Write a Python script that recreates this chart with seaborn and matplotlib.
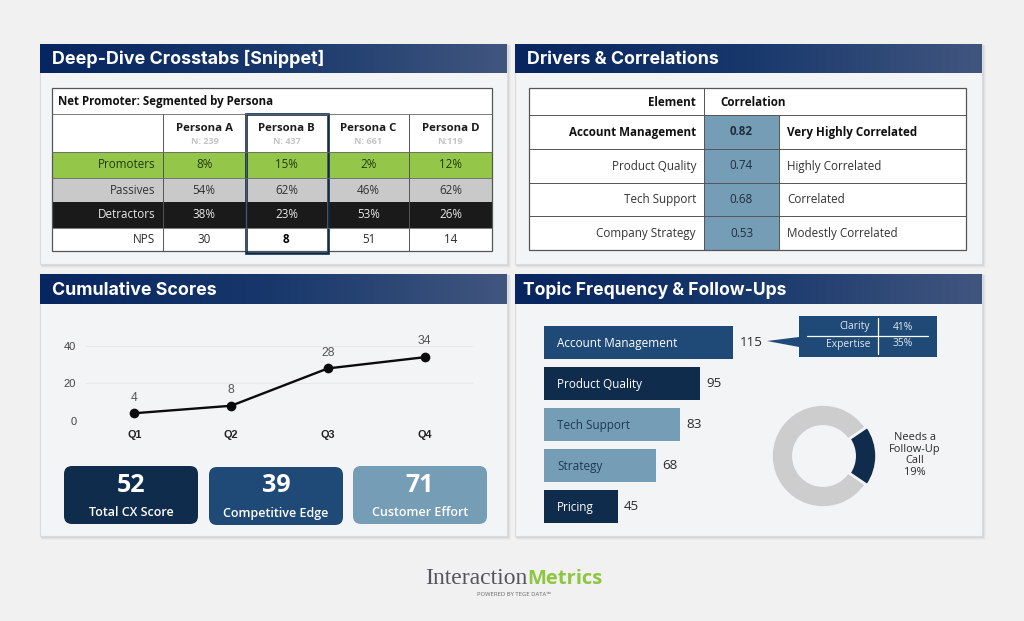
import numpy as np
import pandas as pd
import seaborn as sns
import matplotlib
matplotlib.use("Agg")
import matplotlib.pyplot as plt
from matplotlib.colors import LinearSegmentedColormap, ListedColormap
from matplotlib.patches import FancyBboxPatch, Polygon, Rectangle

# crosstab data
personas = ["Persona A", "Persona B", "Persona C", "Persona D"]
persona_ns = ["N: 239", "N: 437", "N: 661", "N:119"]
row_labels = ["Promoters", "Passives", "Detractors", "NPS"]
promoters = [8, 15, 2, 12]
passives = [54, 62, 46, 62]
detractors = [38, 23, 53, 26]
nps = [30, 8, 51, 14]

# correlation data
elements = ["Account Management", "Product Quality", "Tech Support", "Company Strategy"]
correlations = [0.82, 0.74, 0.68, 0.53]
corr_labels = ["Very Highly Correlated", "Highly Correlated", "Correlated", "Modestly Correlated"]

# cumulative scores
quarters = ["Q1", "Q2", "Q3", "Q4"]
scores = [4, 8, 28, 34]
kpi_values = [52, 39, 71]
kpi_labels = ["Total CX Score", "Competitive Edge", "Customer Effort"]

# topics
topics = ["Account Management", "Product Quality", "Tech Support", "Strategy", "Pricing"]
topic_counts = [115, 95, 83, 68, 45]
callout_rows = [("Clarity", "41%"), ("Expertise", "35%")]
followup_share = [19, 81]

NAVY = "#0f2c4d"
BLUE = "#1f4a78"
STEEL = "#769db6"
GREEN = "#94c749"
GRAY = "#c9c9c9"
LINE = "#555555"
TEXT = "#2b2b2b"
TITLE_FONT = "Inter"
BODY_FONT = "Open Sans"
CARD_FONT = "Open Sans"

sns.set_theme(style="white")
fig = plt.figure(figsize=(10.24, 6.21), dpi=100, facecolor="#f1f1f1")
W, H = 1024, 621


def px_axes(x0, y0, x1, y1, zorder=2):
    ax = fig.add_axes([x0 / W, 1 - y1 / H, (x1 - x0) / W, (y1 - y0) / H], zorder=zorder)
    ax.patch.set_alpha(0)
    return ax


def overlay(zorder):
    ax = px_axes(0, 0, W, H, zorder=zorder)
    ax.set_xlim(0, W)
    ax.set_ylim(H, 0)
    ax.axis("off")
    ax.set_autoscale_on(False)
    return ax


back = overlay(0)
top = overlay(5)
header_cmap = LinearSegmentedColormap.from_list("hdr", ["#07255f", "#18386c", "#41567f"])


def panel(x0, y0, x1, y1, head_bottom, title, title_x=12, title_size=12.8):
    # soft shadow on right and bottom
    for off, a in [(4, 0.025), (3, 0.035), (2, 0.05), (1, 0.06)]:
        back.add_patch(Rectangle((x0 + 1, y0 + 1), x1 - x0 + off - 1, y1 - y0 + off - 1,
                                 fc="black", ec="none", alpha=a))
    back.add_patch(Rectangle((x0, y0), x1 - x0, y1 - y0, fc="#f3f4f6", ec="#dcdcdc", lw=0.8))
    back.imshow(np.linspace(0, 1, 256)[None, :], extent=[x0, x1, head_bottom, y0],
                cmap=header_cmap, aspect="auto", zorder=3)
    back.text(x0 + title_x, (y0 + head_bottom) / 2 + 6, title, color="white", fontsize=title_size,
              fontweight="bold", family=TITLE_FONT, va="baseline", zorder=4)


panel(40, 44, 507, 264, 73, "Deep-Dive Crosstabs [Snippet]", title_size=12.9)
panel(515, 44, 982, 264, 73, "Drivers & Correlations")
panel(40, 274, 507, 536, 304, "Cumulative Scores")
panel(515, 274, 982, 536, 304, "Topic Frequency & Follow-Ups", title_x=8, title_size=12.6)

# ---- crosstab table
row_edges = [152, 178, 202, 228, 251]
col_edges = [52, 163, 246, 327, 409, 492]
row_cmap = ListedColormap([GREEN, GRAY, "#1a1a1a", "#ffffff"])
row_text = ["#1f3a12", "#333333", "#e8e8e8", TEXT]
back.add_patch(Rectangle((52, 88), 440, 163, fc="white", ec="none", zorder=3))


def row_scale(ax):
    ys = np.arange(5)
    ax.set_yscale("function", functions=(lambda v: np.interp(v, ys, row_edges),
                                         lambda v: np.interp(v, row_edges, ys)))
    ax.set_xticks([])
    ax.set_yticks([])


codes = np.repeat(np.arange(4), 4).reshape(4, 4)
cells = [[f"{v}%" for v in promoters], [f"{v}%" for v in passives],
         [f"{v}%" for v in detractors], [str(v) for v in nps]]
ax = px_axes(col_edges[1], row_edges[0], col_edges[-1], row_edges[-1])
sns.heatmap(codes, annot=np.array(cells), fmt="", cmap=row_cmap, vmin=-0.5, vmax=3.5, cbar=False,
            xticklabels=False, yticklabels=False, ax=ax,
            annot_kws={"fontsize": 8.4, "family": BODY_FONT})
row_scale(ax)
for i, t in enumerate(ax.texts):
    t.set_color(row_text[i // 4])
ax.texts[13].set_fontweight("bold")
ax.texts[13].set_color("black")

ax = px_axes(col_edges[0], row_edges[0], col_edges[1], row_edges[-1])
sns.heatmap(np.arange(4).reshape(4, 1), annot=np.array(row_labels).reshape(4, 1), fmt="", cmap=row_cmap,
            vmin=-0.5, vmax=3.5, cbar=False, xticklabels=False, yticklabels=False, ax=ax,
            annot_kws={"fontsize": 8.4, "family": BODY_FONT})
row_scale(ax)
for i, t in enumerate(ax.texts):
    t.set_color(row_text[i])
    t.set_ha("right")
    t.set_x(0.93)

top.text(58, 101.5, "Net Promoter: Segmented by Persona", fontsize=8.3, fontweight="bold",
         family=BODY_FONT, color="#111111", va="center")
for i, name in enumerate(personas):
    cx = (col_edges[i + 1] + col_edges[i + 2]) / 2
    top.text(cx, 128.5, name, fontsize=8.2, fontweight="bold", family=BODY_FONT, color="#1a1a1a",
             ha="center", va="center")
    top.text(cx, 141.5, persona_ns[i], fontsize=6.6, fontweight="bold", family=BODY_FONT, color="#c4c4c4",
             ha="center", va="center")
for x in col_edges[1:-1]:
    top.plot([x, x], [114, 251], color=LINE, lw=0.7)
for y in [114, 152, 178, 228]:
    top.plot([52, 492], [y, y], color="#666666", lw=0.6)
top.add_patch(Rectangle((52, 88), 440, 163, fc="none", ec=LINE, lw=0.9))
top.add_patch(Rectangle((246, 113.5), 81.5, 139, fc="none", ec="#0d2b4e", lw=1.9))

# ---- correlation table
back.add_patch(Rectangle((529, 88), 437, 162, fc="white", ec="none", zorder=3))
ax = px_axes(704, 115, 779, 250)
corr_frame = pd.DataFrame({"corr": correlations}, index=elements)
sns.heatmap(corr_frame, annot=True, fmt=".2f", cmap=ListedColormap([STEEL]), cbar=False,
            xticklabels=False, yticklabels=False, ax=ax,
            annot_kws={"fontsize": 8.4, "family": BODY_FONT, "color": "#1e2f3c"})
ax.set_ylabel("")
ax.texts[0].set_fontweight("bold")
top.text(696, 102, "Element", fontsize=8.4, fontweight="bold", family=BODY_FONT, color="#111111",
         ha="right", va="center")
top.text(720, 102, "Correlation", fontsize=8.4, fontweight="bold", family=BODY_FONT, color="#111111",
         va="center")
for i in range(4):
    cy = 115.5 + 33.75 * (i + 0.5)
    weight = "bold" if i == 0 else "normal"
    color = "#111111" if i == 0 else "#333333"
    top.text(696, cy, elements[i], fontsize=8.4, fontweight=weight, family=BODY_FONT, color=color,
             ha="right", va="center")
    top.text(787, cy, corr_labels[i], fontsize=8.4, fontweight=weight, family=BODY_FONT, color=color,
             va="center")
    top.plot([529, 966], [115 + 33.75 * i] * 2, color=LINE, lw=0.7)
top.plot([704, 704], [88, 250], color=LINE, lw=0.7)
top.plot([779, 779], [115, 250], color=LINE, lw=0.7)
top.add_patch(Rectangle((529, 88), 437, 162, fc="none", ec=LINE, lw=0.9))

# ---- line chart
ax = px_axes(86, 346, 473, 420.7)
sns.lineplot(x=quarters, y=scores, marker="o", markersize=7, color="#0b0b0b", linewidth=1.7,
             markeredgewidth=0, clip_on=False, ax=ax, zorder=4)
ax.set_xlim(-0.5, 3.5)
ax.set_ylim(0, 40)
ax.set_yticks([0, 20, 40])
ax.yaxis.grid(True, color="#e8e8e8", lw=0.8)
ax.set_axisbelow(True)
sns.despine(ax=ax, left=True, bottom=True)
ax.tick_params(axis="y", length=0, pad=7, labelsize=8, labelcolor="#444444")
ax.tick_params(axis="x", length=0, pad=6.5, labelsize=7.8, labelcolor="#222222")
for lab in ax.get_xticklabels():
    lab.set_fontweight("bold")
    lab.set_family("Liberation Sans")
for lab in ax.get_yticklabels():
    lab.set_family("Liberation Sans")
for q, s in zip(quarters, scores):
    ax.annotate(str(s), (q, s), xytext=(0, 7), textcoords="offset points", ha="center", va="bottom",
                fontsize=8.8, color="#555555", family="Liberation Sans", annotation_clip=False)

# ---- kpi cards
cards = [(64, 466, NAVY), (209, 467, BLUE), (353, 466, STEEL)]
for (x, y, c), val, lab in zip(cards, kpi_values, kpi_labels):
    top.add_patch(FancyBboxPatch((x + 8, y + 8), 134 - 16, 58 - 16, boxstyle="round,pad=8,rounding_size=8",
                                 fc=c, ec="none", mutation_aspect=1))
    top.text(x + 67, y + 25.5, str(val), color="white", fontsize=18, fontweight="bold", family=CARD_FONT,
             ha="center", va="baseline")
    top.text(x + 67, y + 50, lab, color="white", fontsize=9, fontweight="semibold", family=CARD_FONT,
             ha="center", va="baseline")

# ---- topic bars
bar_colors = [BLUE, NAVY, STEEL, STEEL, NAVY]
label_colors = ["white", "white", "#1c3a52", "#1c3a52", "white"]
ax = px_axes(543.7, 322, 800, 527)
sns.barplot(x=topic_counts, y=topics, hue=topics, palette=bar_colors, dodge=False, legend=False,
            width=0.8, saturation=1, orient="h", linewidth=0, ax=ax)
ax.set_xlim(0, 256.3 / 1.648)
sns.despine(ax=ax, left=True, bottom=True)
ax.set_xticks([])
ax.set_yticks([])
ax.set_xlabel("")
ax.set_ylabel("")
for i, (name, n) in enumerate(zip(topics, topic_counts)):
    ax.annotate(name, (0, i), xytext=(9.5, -0.5), textcoords="offset points", va="center", ha="left",
                fontsize=8.5, color=label_colors[i], family=BODY_FONT)
    ax.annotate(str(n), (n, i), xytext=(4.5, 0), textcoords="offset points", va="center", ha="left",
                fontsize=9.6, color="#2a2a2a", family=BODY_FONT)

# callout
top.add_patch(Rectangle((799, 316), 138, 41, fc=BLUE, ec="none"))
top.add_patch(Polygon([(767, 341), (799, 337), (799, 347)], closed=True, fc=BLUE, ec="none"))
top.plot([807, 928], [335.7, 335.7], color="white", lw=0.9)
top.plot([878, 878], [318, 354], color="white", lw=0.9)
for (lab, pct), y in zip(callout_rows, [327, 344]):
    top.text(870, y, lab, color="#dfe8ef", fontsize=7.4, family=BODY_FONT, ha="right", va="center")
    top.text(903, y, pct, color="#dfe8ef", fontsize=7.4, family=BODY_FONT, ha="center", va="center")

# donut
ax = px_axes(823 - 56, 456 - 56, 823 + 56, 456 + 56)
ax.pie(followup_share, colors=[NAVY, "#cdcdcd"], startangle=-followup_share[0] * 1.8, explode=[0.04, 0],
       radius=1, counterclock=True, wedgeprops={"width": 0.41, "edgecolor": "#f3f4f6", "linewidth": 1.2})
ax.set_xlim(-56 / 51, 56 / 51)
ax.set_ylim(-56 / 51, 56 / 51)
top.text(915, 455, f"Needs a\nFollow-Up\nCall\n{followup_share[0]}%", fontsize=7.9, family=BODY_FONT,
         color="#2b2b2b", ha="center", va="center", linespacing=1.12)

# logo
top.text(425, 584.5, "Interaction", fontsize=17, family="Liberation Serif", color="#55565a", va="baseline")
top.text(527, 584.5, "Metrics", fontsize=14.5, fontweight="bold", family=CARD_FONT, color="#8dc63f", va="baseline")
top.text(514, 594, "POWERED BY TEGE DATA™", fontsize=4.2, family=BODY_FONT, color="#666666",
         ha="center", va="center")

fig.savefig("out.png", dpi=100, facecolor=fig.get_facecolor())
